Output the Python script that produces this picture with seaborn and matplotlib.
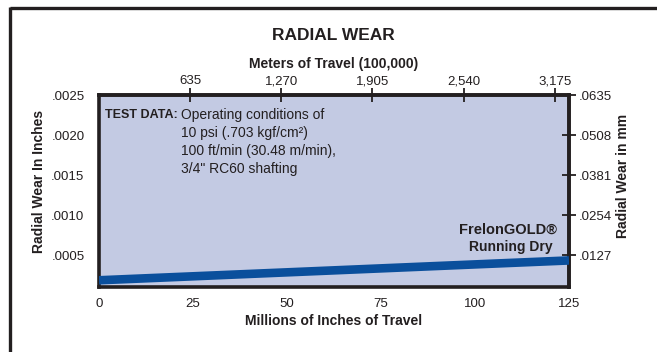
import matplotlib
matplotlib.use("Agg")
import matplotlib.pyplot as plt
import seaborn as sns
import pandas as pd
from matplotlib.lines import Line2D

# --- data -----------------------------------------------------------------
travel_minches = [0, 125]                 # millions of inches of travel
radial_wear_in = [0.000184, 0.000432]      # radial wear, inches

inch_ticks = [0, 25, 50, 75, 100, 125]
wear_ticks_in = [0.0005, 0.0010, 0.0015, 0.0020, 0.0025]
wear_labels_in = [".0005", ".0010", ".0015", ".0020", ".0025"]
wear_ticks_mm = [0.0127, 0.0254, 0.0381, 0.0508, 0.0635]
wear_labels_mm = [".0127", ".0254", ".0381", ".0508", ".0635"]
meter_ticks = [635, 1270, 1905, 2540, 3175]
meter_labels = ["635", "1,270", "1,905", "2,540", "3,175"]

# upper scale: meters (x100,000) per million inches as printed on the chart
TOP_SCALE = 26.2
MM_PER_IN = 25.4

# --- style ----------------------------------------------------------------
sns.set_theme(style="white")
plt.rcParams["font.family"] = ["Liberation Sans", "DejaVu Sans"]
INK = "#231f20"
FACE = "#c3cae3"
BAND = "#0a4f9c"
plt.rcParams["text.color"] = INK
plt.rcParams["axes.labelcolor"] = INK
plt.rcParams["xtick.color"] = INK
plt.rcParams["ytick.color"] = INK

fig = plt.figure(figsize=(6.57, 3.52), dpi=100)
fig.patch.set_facecolor("white")

W, H = 657, 352
ax = fig.add_axes([99 / W, (H - 287) / H, (569 - 99) / W, (287 - 95) / H])
ax.set_facecolor(FACE)

df = pd.DataFrame({"travel": travel_minches, "wear": radial_wear_in})
sns.lineplot(data=df, x="travel", y="wear", ax=ax, color=BAND,
             linewidth=6.2, solid_capstyle="butt", zorder=3)

ax.set_xlim(0, 125)
ax.set_ylim(0.0001, 0.0025)

TICK_FS = 9.5
tick_kw = dict(direction="inout", length=10, width=1.3, colors=INK, labelsize=TICK_FS)
ax.set_xticks(inch_ticks)
ax.set_xticklabels([str(t) for t in inch_ticks])
ax.set_yticks(wear_ticks_in)
ax.set_yticklabels(wear_labels_in)
ax.tick_params(axis="both", **tick_kw)
ax.tick_params(axis="y", pad=5.5)
ax.tick_params(axis="x", pad=3)

for s in ax.spines.values():
    s.set_visible(True)
    s.set_color(INK)
    s.set_linewidth(2.6)

ax.set_xlabel("Millions of Inches of Travel", fontsize=10, fontweight="bold")
ax.xaxis.set_label_coords(0.5, -(321 - 287) / (287 - 95), transform=ax.transAxes)
ax.xaxis.label.set_va("center")
ax.set_ylabel("Radial Wear In Inches", fontsize=10, fontweight="bold")
ax.yaxis.set_label_coords(-(99 - 39) / (569 - 99), (287 - 181) / (287 - 95))
ax.yaxis.label.set_va("center")

# right-hand millimetre scale
axr = ax.secondary_yaxis("right", functions=(lambda y: y * MM_PER_IN, lambda m: m / MM_PER_IN))
axr.set_yticks(wear_ticks_mm)
axr.set_yticklabels(wear_labels_mm)
axr.tick_params(axis="y", pad=2, **tick_kw)
axr.spines["right"].set_linewidth(2.6)
axr.spines["right"].set_color(INK)
fig.text(623 / W, 1 - 176 / H, "Radial Wear in mm", fontsize=10, fontweight="bold",
         rotation=90, ha="center", va="center")

# upper metres-of-travel scale
axt = ax.secondary_xaxis("top", functions=(lambda x: x * TOP_SCALE, lambda m: m / TOP_SCALE))
axt.set_xticks(meter_ticks)
axt.set_xticklabels(meter_labels)
axt.tick_params(axis="x", pad=0.5, **tick_kw)
axt.spines["top"].set_linewidth(2.6)
axt.spines["top"].set_color(INK)
axt.set_xlabel("Meters of Travel (100,000)", fontsize=10, fontweight="bold", labelpad=5)

# title
fig.text(333 / W, 1 - 35 / H, "RADIAL WEAR", ha="center", va="center",
         fontsize=12.5, fontweight="bold")

# test conditions block
def fx(px):
    return (px - 99) / (569 - 99)

def fy(py):
    return (287 - py) / (287 - 95)

ax.text(fx(105), fy(115), "TEST DATA:", fontsize=9, fontweight="bold", va="center",
        transform=ax.transAxes)
lines = ["Operating conditions of", "10 psi (.703 kgf/cm\u00b2)",
         "100 ft/min (30.48 m/min),", "3/4\" RC60 shafting"]
for i, t in enumerate(lines):
    ax.text(fx(181), fy(115 + 18 * i), t, fontsize=10, va="center",
            transform=ax.transAxes)

ax.text(fx(557), fy(230), "FrelonGOLD\u00ae", fontsize=10.5, fontweight="bold",
        ha="right", va="center", transform=ax.transAxes)
ax.text(fx(553), fy(247), "Running Dry", fontsize=10, fontweight="bold",
        ha="right", va="center", transform=ax.transAxes)

# outer frame (open on the right and bottom)
fig.add_artist(Line2D([10 / W, 1.0], [1 - 8 / H, 1 - 8 / H], color=INK, linewidth=2.4,
                      transform=fig.transFigure, solid_capstyle="butt"))
fig.add_artist(Line2D([10 / W, 10 / W], [0.0, 1 - 8 / H + 0.003], color=INK, linewidth=2.4,
                      transform=fig.transFigure, solid_capstyle="butt"))

fig.savefig("out.png", dpi=100)
